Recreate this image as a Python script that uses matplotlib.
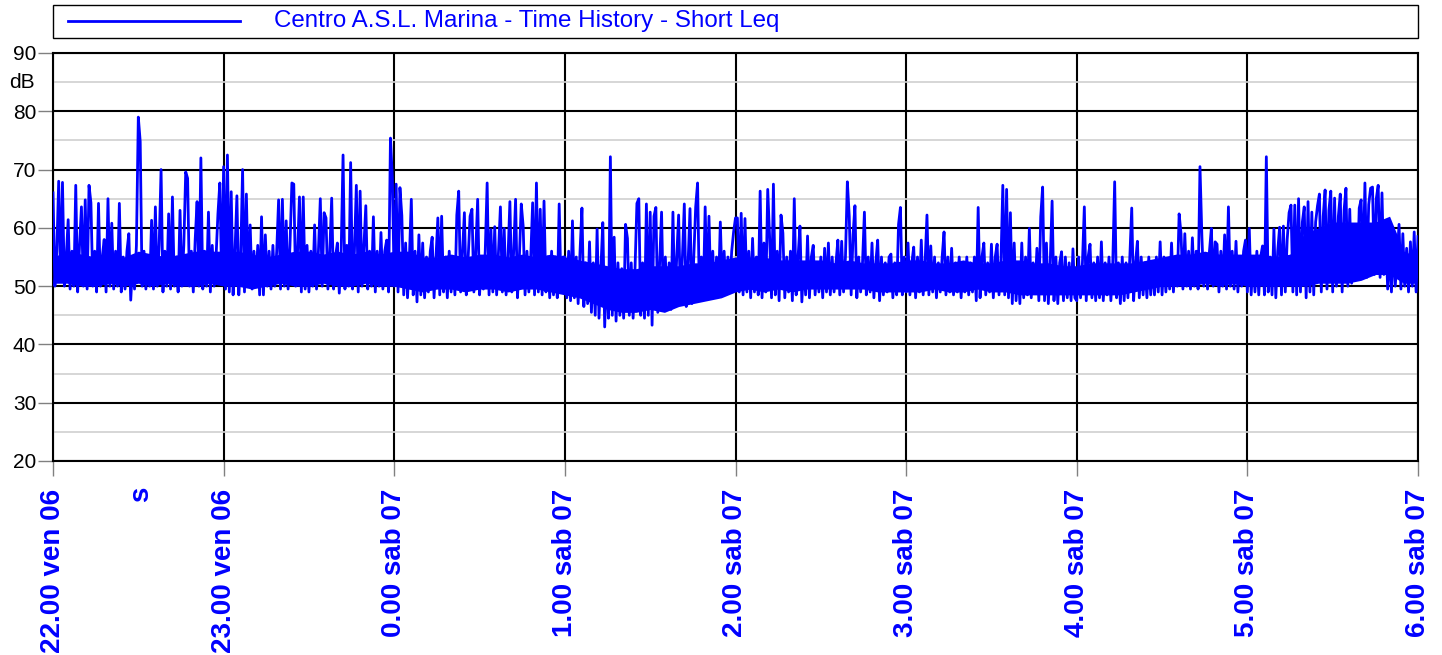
import numpy as np
import matplotlib.pyplot as plt
from matplotlib.lines import Line2D
from matplotlib.patches import Rectangle
from matplotlib.transforms import blended_transform_factory

plt.rcParams['font.family'] = ['Liberation Sans', 'DejaVu Sans']

# Short Leq (dB), one value every 40 s, one list per hour from 22.00
leq_22 = [66, 50, 56, 68, 51, 67.8, 50, 55, 61.4, 49.5, 56, 50, 67.3, 49, 57, 63.6, 50, 64.8, 49.5, 67.3,
          64.3, 50, 56, 49, 64.2, 50, 55, 58, 49, 65, 50, 60.8, 49.5, 56, 50, 64.2, 49, 55, 49.5, 56,
          59, 47.6, 54, 49.5, 57, 79, 74.8, 50, 56, 49.5, 55, 50, 61.3, 49.5, 63.6, 50, 57, 70, 49, 56,
          50, 62.4, 49.5, 65.3, 50, 55, 49, 63, 50, 57, 69.6, 68.5, 50, 56, 49, 58, 64.5, 50, 72, 49.5,
          56, 50, 62.7, 49, 57, 50, 55, 62.4, 67.7, 50.5]
leq_23 = [70.5, 49.5, 72.5, 49, 66.2, 48.5, 56, 65.5, 48.5, 55, 70, 49, 65.8, 50, 60.5, 49.5, 56, 50, 57, 48.5,
          61.9, 48.5, 58.8, 50, 56, 49.5, 57, 50, 56, 64.8, 49.5, 64.9, 50, 61.2, 49.5, 57, 67.7, 67.5, 50, 56,
          65.3, 49, 65.3, 49.5, 57, 49, 56, 50, 60.5, 49.5, 56, 65, 50, 62.6, 61.7, 49.5, 56, 65.1, 49.5, 55,
          57.4, 48.8, 56, 72.5, 49.5, 57, 50, 71.2, 49.5, 56, 67.3, 49, 66.3, 50, 57, 63.8, 49.5, 56, 50, 61.9,
          49, 56, 50, 59.2, 49.5, 56, 57.9, 49, 75.4, 68.5]
leq_00 = [50, 67.5, 49, 66.9, 62.1, 48.5, 57.4, 48, 55, 64.9, 48.5, 56, 47.3, 58.8, 48.5, 57.4, 48, 55, 49, 56,
          58.4, 48, 55, 61.7, 48.5, 62, 49, 55, 48, 56, 49, 55, 48.5, 62.2, 66.3, 49, 56, 62.6, 48.5, 55,
          62, 63.2, 49, 56, 64.9, 48.5, 55, 49.5, 56, 67.7, 48.5, 59.7, 49, 60.2, 48.5, 56, 63.6, 49, 59.9, 48.5,
          55, 64.5, 49, 56, 64.9, 48, 55, 64.1, 60.3, 48.5, 56, 49, 55, 64.3, 48.5, 67.7, 49, 63.2, 48.5, 64.6,
          49, 55, 48, 56, 48.5, 55, 48, 64.1, 49, 55]
leq_01 = [55, 48, 56, 47.5, 61.2, 48, 55, 47, 56, 63.4, 46.5, 54, 47, 57.6, 45.5, 54, 45, 59.8, 44.5, 53,
          60.9, 43, 53, 44.5, 72.2, 45, 58.4, 44, 54, 45, 53, 44.5, 60.6, 58.2, 45, 54, 44.5, 53, 64.2, 65,
          45, 54, 44.5, 64.1, 45, 62.7, 43.3, 62, 63.5, 45.5, 54, 62.7, 46, 55, 46.5, 54, 46, 62.7, 46.5, 55,
          62.2, 47, 55, 64.1, 46.5, 54, 63.3, 47, 55, 63.6, 67.7, 47.5, 55, 48, 63.6, 48.5, 62, 49, 56, 48.5,
          55, 49, 61, 49.5, 56, 49, 55, 50, 56, 59.3]
leq_02 = [61.7, 61.7, 49, 62.5, 48.5, 61.6, 49, 56, 48, 58.2, 49, 55, 48.5, 66.3, 48, 57.4, 49, 66.6, 58.4, 48,
          67.5, 48.5, 56, 47.5, 62.2, 59.1, 48, 55, 49, 56, 47.5, 65, 48.5, 55, 60.3, 47.3, 54, 48.5, 58.6, 48,
          55, 57, 48.5, 54, 49, 55, 48, 56.5, 49, 57.4, 48.5, 55, 49, 54, 57.9, 48.5, 57.7, 49, 55, 67.9,
          62, 48.5, 58.8, 63.8, 48, 55, 49, 54, 62.7, 48.5, 55, 49, 57.4, 48, 54, 57.9, 47.5, 55, 48.5, 54,
          49, 55, 55.5, 48, 54, 48.5, 60.6, 63.5, 48.5, 55]
leq_03 = [49, 57.4, 48.5, 54, 56.7, 48, 55, 49, 57.9, 48.5, 54, 62.2, 48.5, 56.9, 49, 55, 48, 54, 49, 55,
          59.3, 48.5, 55, 49, 56.5, 48.5, 54, 49, 55, 48, 54, 49, 55, 48.5, 54, 49, 55, 47.5, 63.5, 48,
          55, 57.4, 48.5, 54, 49, 57.2, 48, 55, 57.2, 48.5, 54, 67.3, 48.5, 66.6, 48, 62.6, 47, 57.4, 47.5, 54,
          47, 57.4, 48, 55, 48.5, 59.9, 48, 54, 49, 56.5, 47.5, 61.9, 67, 47.5, 57.4, 47, 54, 64.6, 47.5, 55,
          47, 54, 55.9, 47.5, 55, 48, 54, 47.5, 56.4, 48]
leq_04 = [47.5, 55, 48, 54, 63.6, 47.5, 55, 57.2, 48, 54, 47.5, 55, 48, 57.6, 47.5, 54, 48.5, 55, 47.5, 54,
          67.9, 48, 54, 47, 55, 47.5, 54, 48, 55, 63.4, 47.5, 54, 57.7, 48, 55, 48.5, 54, 48, 55, 48.5,
          54, 48.5, 55, 49, 57.6, 48.5, 55, 49, 54, 49.5, 57.4, 49, 55, 50, 62.4, 59, 49.5, 59, 50, 56,
          49.5, 58.3, 50, 56, 49.5, 70.5, 58.6, 50, 55, 49.5, 56, 59.9, 50, 57.6, 57.2, 49, 56, 50, 58.8, 49.5,
          63.6, 50, 56, 49.5, 57.7, 49, 55, 50, 56, 57.9]
leq_05 = [49, 59.9, 48.5, 55, 49, 56, 48.5, 55, 56.9, 48.5, 72.2, 49, 55, 48.5, 59.8, 48, 56, 60.1, 48.5, 60.3,
          49, 58, 62.6, 63.9, 49, 63.9, 48.5, 65, 49, 61, 63.6, 48, 64.5, 49, 62.7, 48.5, 61, 63.8, 65.8, 49,
          62, 66.5, 49.5, 63, 66.3, 49, 65.1, 50, 62, 65.8, 49, 63, 66.8, 50, 63.2, 50.5, 58, 57.9, 51.5, 63.4,
          64.8, 52, 67.7, 51.5, 64, 66.8, 67, 52, 65, 67.3, 51.5, 66, 52, 59.3, 49.5, 56, 49, 57.6, 50, 55,
          60.6, 49.5, 59, 50, 56.5, 49, 57.6, 50, 59.3, 49, 58.5]

# dense core of the trace, read every 5 minutes (lower / upper edge, dB)
fascia_min = [50.5, 50.5, 50, 50, 50.5, 50, 50.5, 50, 50.5, 50, 50, 50.5, 50,
              50, 49.5, 50, 50.5, 50, 50, 50.5, 50, 50, 50.5, 50, 50,
              49.5, 49, 49.5, 49.5, 49, 49.5, 49.5, 49, 49.5, 49.5, 49, 48.5,
              48, 47, 46, 45.5, 45.5, 46, 45.5, 46.5, 47, 47.5, 48, 49,
              49.5, 49, 49.5, 49, 49.5, 49.5, 49.5, 49.5, 49.5, 49, 49, 49,
              49, 49.5, 49, 49, 49.5, 49, 49, 48.5, 48.5, 48.5, 48.5, 48.5,
              48.5, 48.5, 48.5, 49, 49.5, 50, 50, 50, 50.5, 50, 50.5, 50,
              50, 50, 50, 50, 50.5, 50.5, 50.5, 51, 52, 52, 50.5, 50.5]
fascia_max = [55, 56, 55.5, 55, 55.5, 55, 56, 55.5, 55, 55.5, 56, 56, 56,
              56, 55.5, 55, 55.5, 56, 56, 55.5, 56, 55.5, 56, 55.5, 56,
              56, 55, 55, 55.5, 55, 55.5, 55.5, 55, 55.5, 55, 55.5, 55,
              54.5, 54, 53.5, 53, 53, 53.5, 53.5, 53.5, 54, 54, 54.5, 55,
              55, 55, 54.5, 54.5, 54.5, 54.5, 54, 54.5, 54, 54, 54, 54.5,
              54.5, 54, 54, 54.5, 54, 54, 54.5, 54.5, 54, 54, 53.5, 53.5,
              54, 54, 54, 54, 54.5, 55, 55.5, 55.5, 56, 55.5, 55.5, 55.5,
              55.5, 55, 55.5, 59, 60, 61, 61, 61, 61, 62, 56, 55]

passo_s = 40
passo_fascia = 5
ore = ["22.00 ven 06", "23.00 ven 06", "0.00 sab 07", "1.00 sab 07", "2.00 sab 07",
       "3.00 sab 07", "4.00 sab 07", "5.00 sab 07", "6.00 sab 07"]
titolo = "Centro A.S.L. Marina - Time History - Short Leq"

leq = np.concatenate([leq_22, leq_23, leq_00, leq_01, leq_02, leq_03, leq_04, leq_05])
t = np.arange(len(leq)) * passo_s / 60.0  # minuti dalle 22.00
t_f = np.arange(len(fascia_min)) * passo_fascia

W, H = 1442, 655
fig = plt.figure(figsize=(W / 100, H / 100), dpi=100)
ax = fig.add_axes([53 / W, 1 - 461 / H, 1365 / W, 408 / H])

blu = '#0000ff'
ax.fill_between(t_f, fascia_min, fascia_max, color=blu, lw=0, zorder=2)
ax.plot(t, leq, color=blu, lw=2.0, zorder=3)

ax.set_xlim(0, 480)
ax.set_ylim(20, 90)
ax.set_xticks(np.arange(0, 481, 60))
ax.set_xticklabels(ore, rotation=90, color=blu, fontweight='bold', fontsize=20, va='top')
ax.set_yticks(np.arange(20, 91, 10))
ax.set_yticks(np.arange(25, 90, 10), minor=True)
ax.tick_params(axis='y', which='major', length=11, width=1, color='#808080', pad=1, labelsize=15)
ax.tick_params(axis='y', which='minor', length=0)
ax.tick_params(axis='x', length=11, width=1, color='#808080', pad=9)

ax.set_axisbelow(True)
ax.grid(True, which='major', color='black', lw=1.5)
ax.grid(True, which='minor', axis='y', color='#d0d0d0', lw=1.2)
for s in ax.spines.values():
    s.set_linewidth(1.5)

tr = blended_transform_factory(ax.transAxes, ax.transData)
ax.text(-18 / 1365, 85, "dB", transform=tr, ha='right', va='center', fontsize=15)
tr2 = blended_transform_factory(ax.transData, ax.transAxes)
ax.text(31, -26 / 408, "s", transform=tr2, ha='center', va='top', rotation=90,
        color=blu, fontweight='bold', fontsize=20)

# riquadro legenda
fig.add_artist(Rectangle((53 / W, 1 - 38 / H), 1365 / W, 33 / H, transform=fig.transFigure,
                         fill=False, ec='black', lw=1))
fig.add_artist(Line2D([68 / W, 240 / W], [1 - 21 / H, 1 - 21 / H], transform=fig.transFigure,
                      color=blu, lw=2))
fig.text(274 / W, 1 - 21 / H, titolo, color=blu, fontsize=17.4, va='center')

fig.savefig("out.png", dpi=100)
